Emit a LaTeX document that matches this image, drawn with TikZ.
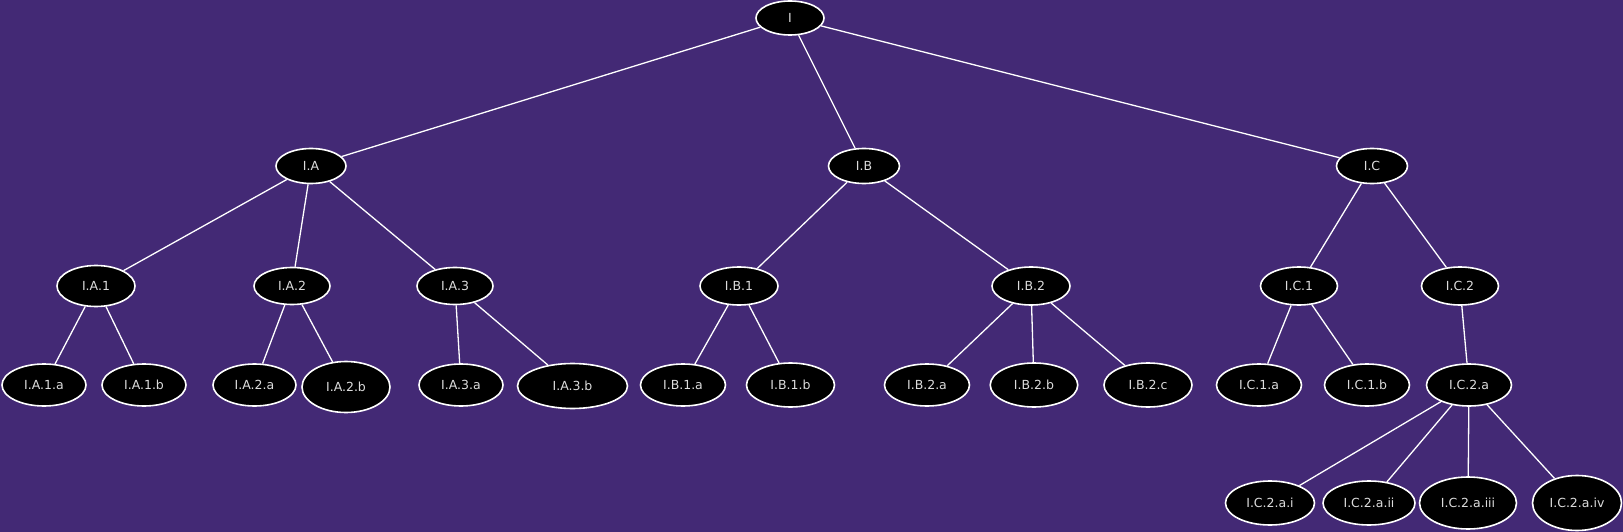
\documentclass[tikz,border=0pt]{standalone}
\usepackage{fontspec}
\setmainfont{DejaVu Sans}
\usetikzlibrary{shapes.geometric}
\definecolor{bgpurple}{RGB}{67,41,117}
\definecolor{txtgray}{RGB}{220,220,220}
\tikzset{
  tnode/.style={ellipse, draw=white, line width=1.6pt, fill=black, text=txtgray, inner sep=0pt,
    font=\fontsize{12.5}{14}\selectfont},
  tedge/.style={draw=white, line width=1.3pt}
}
\begin{document}
\begin{tikzpicture}[x=1pt,y=-1pt]
\fill[bgpurple] (0,0) rectangle (1623,532);
\useasboundingbox (0,0) rectangle (1623,532);
% level 0
\node[tnode, minimum width=68pt, minimum height=34pt] (I) at (790,18) {I};
% level 1
\node[tnode, minimum width=70pt, minimum height=35pt] (IA) at (311,166) {I.A};
\node[tnode, minimum width=71pt, minimum height=35pt] (IB) at (864,166) {I.B};
\node[tnode, minimum width=71pt, minimum height=35pt] (IC) at (1372,166) {I.C};
% level 2
\node[tnode, minimum width=78pt, minimum height=41pt] (IA1) at (96,286) {I.A.1};
\node[tnode, minimum width=76pt, minimum height=37pt] (IA2) at (292,286) {I.A.2};
\node[tnode, minimum width=76pt, minimum height=37pt] (IA3) at (455,286) {I.A.3};
\node[tnode, minimum width=78pt, minimum height=38pt] (IB1) at (739,286) {I.B.1};
\node[tnode, minimum width=78pt, minimum height=38pt] (IB2) at (1031,286) {I.B.2};
\node[tnode, minimum width=77pt, minimum height=38pt] (IC1) at (1299,286) {I.C.1};
\node[tnode, minimum width=77pt, minimum height=38pt] (IC2) at (1460,286) {I.C.2};
% level 3
\node[tnode, minimum width=84pt, minimum height=42pt] (IA1a) at (44,385) {I.A.1.a};
\node[tnode, minimum width=84pt, minimum height=42pt] (IA1b) at (144,385) {I.A.1.b};
\node[tnode, minimum width=83pt, minimum height=42pt] (IA2a) at (254.5,385) {I.A.2.a};
\node[tnode, minimum width=88pt, minimum height=51pt] (IA2b) at (346,387) {I.A.2.b};
\node[tnode, minimum width=84pt, minimum height=42pt] (IA3a) at (461,385) {I.A.3.a};
\node[tnode, minimum width=110pt, minimum height=45pt] (IA3b) at (572.5,386) {I.A.3.b};
\node[tnode, minimum width=85pt, minimum height=42pt] (IB1a) at (683,385) {I.B.1.a};
\node[tnode, minimum width=88pt, minimum height=44pt] (IB1b) at (790.5,385) {I.B.1.b};
\node[tnode, minimum width=85pt, minimum height=42pt] (IB2a) at (927,385) {I.B.2.a};
\node[tnode, minimum width=87.5pt, minimum height=44pt] (IB2b) at (1034,385) {I.B.2.b};
\node[tnode, minimum width=88pt, minimum height=44pt] (IB2c) at (1148,385) {I.B.2.c};
\node[tnode, minimum width=85pt, minimum height=42pt] (IC1a) at (1259,385) {I.C.1.a};
\node[tnode, minimum width=85pt, minimum height=42pt] (IC1b) at (1367,385) {I.C.1.b};
\node[tnode, minimum width=85pt, minimum height=42pt] (IC2a) at (1469,385) {I.C.2.a};
% level 4
\node[tnode, minimum width=89pt, minimum height=44pt] (IC2ai) at (1270,503) {I.C.2.a.i};
\node[tnode, minimum width=92pt, minimum height=44pt] (IC2aii) at (1369,503) {I.C.2.a.ii};
\node[tnode, minimum width=97pt, minimum height=52pt] (IC2aiii) at (1468,503) {I.C.2.a.iii};
\node[tnode, minimum width=89pt, minimum height=55pt] (IC2aiv) at (1577,503) {I.C.2.a.iv};
% edges
\path[tedge] (I) -- (IA);
\path[tedge] (I) -- (IB);
\path[tedge] (I) -- (IC);
\path[tedge] (IA) -- (IA1);
\path[tedge] (IA) -- (IA2);
\path[tedge] (IA) -- (IA3);
\path[tedge] (IB) -- (IB1);
\path[tedge] (IB) -- (IB2);
\path[tedge] (IC) -- (IC1);
\path[tedge] (IC) -- (IC2);
\path[tedge] (IA1) -- (IA1a);
\path[tedge] (IA1) -- (IA1b);
\path[tedge] (IA2) -- (IA2a);
\path[tedge] (IA2) -- (IA2b);
\path[tedge] (IA3) -- (IA3a);
\path[tedge] (IA3) -- (IA3b);
\path[tedge] (IB1) -- (IB1a);
\path[tedge] (IB1) -- (IB1b);
\path[tedge] (IB2) -- (IB2a);
\path[tedge] (IB2) -- (IB2b);
\path[tedge] (IB2) -- (IB2c);
\path[tedge] (IC1) -- (IC1a);
\path[tedge] (IC1) -- (IC1b);
\path[tedge] (IC2) -- (IC2a);
\path[tedge] (IC2a) -- (IC2ai);
\path[tedge] (IC2a) -- (IC2aii);
\path[tedge] (IC2a) -- (IC2aiii);
\path[tedge] (IC2a) -- (IC2aiv);
\end{tikzpicture}
\end{document}
